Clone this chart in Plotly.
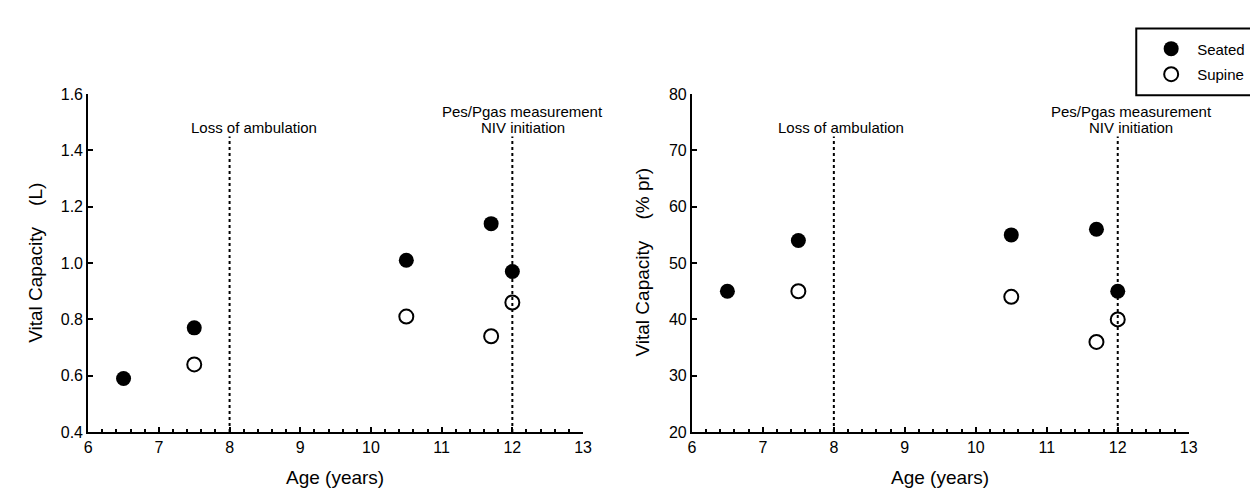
import plotly.graph_objects as go

# ---- data ----
age_seated = [6.5, 7.5, 10.5, 11.7, 12.0]
vc_l_seated = [0.59, 0.77, 1.01, 1.14, 0.97]
vc_pct_seated = [45, 54, 55, 56, 45]

age_supine = [7.5, 10.5, 11.7, 12.0]
vc_l_supine = [0.64, 0.81, 0.74, 0.86]
vc_pct_supine = [45, 44, 36, 40]

event_ages = [8, 12]

FONT = "Liberation Sans, Arial, sans-serif"
W, H = 1258, 488

def px_x(p):
    return p / W

def px_y(p):
    return 1 - p / H

fig = go.Figure()

# left panel
fig.add_trace(go.Scatter(x=age_seated, y=vc_l_seated, mode="markers", name="Seated",
                         legendgroup="a",
                         marker=dict(symbol="circle", size=15, color="black"),
                         xaxis="x", yaxis="y", showlegend=True))
fig.add_trace(go.Scatter(x=age_supine, y=vc_l_supine, mode="markers", name="Supine",
                         legendgroup="b",
                         marker=dict(symbol="circle-open", size=14, color="black", line=dict(width=2)),
                         xaxis="x", yaxis="y", showlegend=True))
# right panel
fig.add_trace(go.Scatter(x=age_seated, y=vc_pct_seated, mode="markers", name="Seated",
                         legendgroup="a",
                         marker=dict(symbol="circle", size=15, color="black"),
                         xaxis="x2", yaxis="y2", showlegend=False))
fig.add_trace(go.Scatter(x=age_supine, y=vc_pct_supine, mode="markers", name="Supine",
                         legendgroup="b",
                         marker=dict(symbol="circle-open", size=14, color="black", line=dict(width=2)),
                         xaxis="x2", yaxis="y2", showlegend=False))

# event lines
line_tops = {"y": 1.45, "y2": 72.5}
line_bottoms = {"y": 0.4, "y2": 20}
for xr, yr in (("x", "y"), ("x2", "y2")):
    for a in event_ages:
        fig.add_shape(type="line", xref=xr, yref=yr, x0=a, x1=a,
                      y0=line_bottoms[yr], y1=line_tops[yr],
                      line=dict(color="black", width=2, dash="dot"), layer="below")

# legend frame (runs past the right edge, as in the reference)
fig.add_shape(type="rect", xref="paper", yref="paper",
              x0=px_x(1136), x1=px_x(1275), y0=px_y(82), y1=px_y(13),
              line=dict(color="black", width=2), fillcolor="white", layer="below")

ann_font = dict(family=FONT, size=15, color="black")
# left annotations
fig.add_annotation(xref="x", yref="y", x=8.34, y=1.48, text="Loss of ambulation",
                   showarrow=False, font=ann_font, xanchor="center", yanchor="middle")
fig.add_annotation(xref="x", yref="y", x=12.15, y=1.538, text="Pes/Pgas measurement",
                   showarrow=False, font=ann_font, xanchor="center", yanchor="middle")
fig.add_annotation(xref="x", yref="y", x=12.15, y=1.48, text="NIV initiation",
                   showarrow=False, font=ann_font, xanchor="center", yanchor="middle")
# right annotations
fig.add_annotation(xref="x2", yref="y2", x=8.1, y=74.0, text="Loss of ambulation",
                   showarrow=False, font=ann_font, xanchor="center", yanchor="middle")
fig.add_annotation(xref="x2", yref="y2", x=12.19, y=76.9, text="Pes/Pgas measurement",
                   showarrow=False, font=ann_font, xanchor="center", yanchor="middle")
fig.add_annotation(xref="x2", yref="y2", x=12.19, y=74.0, text="NIV initiation",
                   showarrow=False, font=ann_font, xanchor="center", yanchor="middle")

# axis titles
title_font = dict(family=FONT, size=19, color="black")
sp = "\u00a0\u00a0\u00a0 "
fig.add_annotation(xref="paper", yref="paper", x=px_x(23), y=px_y(256),
                   text="Vital Capacity" + sp + "(L)", textangle=-90, showarrow=False,
                   font=title_font, xanchor="center", yanchor="middle")
fig.add_annotation(xref="paper", yref="paper", x=px_x(637), y=px_y(255),
                   text="Vital Capacity" + sp + "(% pr)", textangle=-90, showarrow=False,
                   font=title_font, xanchor="center", yanchor="middle")
fig.add_annotation(xref="paper", yref="paper", x=px_x(326), y=px_y(478),
                   text="Age (years)", showarrow=False, font=title_font,
                   xanchor="center", yanchor="middle")
fig.add_annotation(xref="paper", yref="paper", x=px_x(938), y=px_y(478),
                   text="Age (years)", showarrow=False, font=title_font,
                   xanchor="center", yanchor="middle")

tick_font = dict(family=FONT, size=16, color="black")
xcommon = dict(range=[6, 13], dtick=1, tick0=6, showgrid=False, zeroline=False,
               showline=True, linewidth=2, linecolor="black",
               ticks="inside", ticklen=5, tickwidth=2, tickcolor="black",
               tickfont=tick_font, fixedrange=True,
               minor=dict(ticks="inside", ticklen=3, tickwidth=2, tickcolor="black",
                          dtick=0.2, showgrid=False))
ycommon = dict(showgrid=False, zeroline=False, showline=True, linewidth=2, linecolor="black",
               ticks="inside", ticklen=5, tickwidth=2, tickcolor="black",
               tickfont=tick_font, fixedrange=True)

y_top, y_bot = px_y(81), px_y(431)
fig.update_layout(
    width=W, height=H,
    margin=dict(l=0, r=0, t=0, b=0),
    paper_bgcolor="white", plot_bgcolor="white",
    font=dict(family=FONT, color="black"),
    xaxis=dict(domain=[px_x(77), px_x(577)], anchor="y", **xcommon),
    yaxis=dict(domain=[y_bot, y_top], anchor="x", range=[0.4, 1.6], dtick=0.2,
               tick0=0.4, tickformat=".1f", **ycommon),
    xaxis2=dict(domain=[px_x(687), px_x(1189)], anchor="y2", **xcommon),
    yaxis2=dict(domain=[y_bot, y_top], anchor="x2", range=[20, 80], dtick=10,
                tick0=20, **ycommon),
    showlegend=True,
    legend=dict(x=px_x(1145), y=px_y(17), xanchor="left", yanchor="top",
                borderwidth=0, bgcolor="rgba(0,0,0,0)",
                font=dict(family=FONT, size=15, color="black"),
                itemwidth=42, tracegroupgap=3),
)

fig.write_html("out.html")
